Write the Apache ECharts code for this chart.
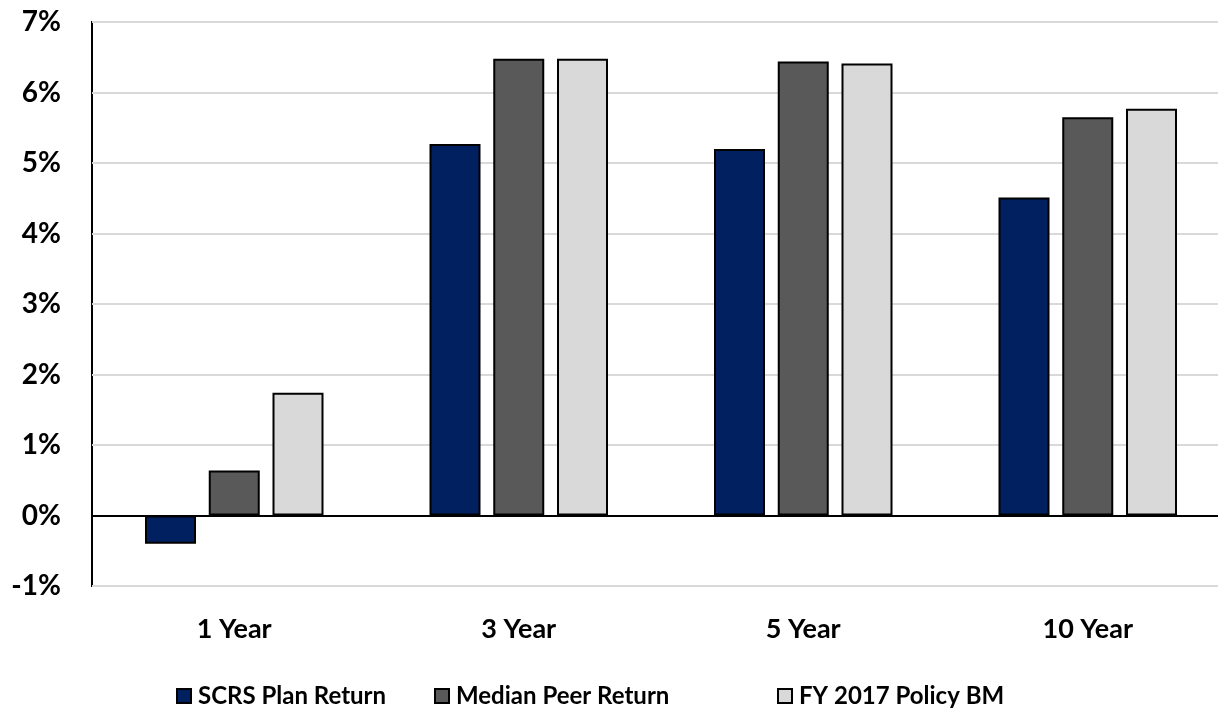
<!DOCTYPE html>
<html>
<head>
<meta charset="utf-8">
<script src="https://cdn.jsdelivr.net/npm/echarts@6/dist/echarts.min.js"></script>
<style>
  html, body { margin: 0; padding: 0; background: #fff; overflow: hidden; }
  /* The plot runs a little past the right edge of the page */
  #chart { width: 1230px; height: 715px; }
</style>
</head>
<body>
<div id="chart"></div>
<script>
// Annualized returns by period (percent)
const periods = ['1 Year', '3 Year', '5 Year', '10 Year'];
const scrsPlanReturn = [-0.40, 5.27, 5.20, 4.51];
const medianPeerReturn = [0.64, 6.48, 6.44, 5.65];
const policyBenchmark = [1.74, 6.48, 6.41, 5.77];
const seriesNames = ['SCRS Plan Return', 'Median Peer Return', 'FY 2017 Policy BM'];
const seriesColors = ['#002060', '#595959', '#d9d9d9'];

const FONT = 'Lato, "Open Sans", sans-serif';

const chart = echarts.init(document.getElementById('chart'), null, { renderer: 'canvas' });

const seriesData = [scrsPlanReturn, medianPeerReturn, policyBenchmark];
const series = seriesData.map((data, i) => ({
  name: seriesNames[i],
  type: 'bar',
  data: data,
  barWidth: 51,
  barGap: '25%',
  itemStyle: { color: seriesColors[i], borderColor: '#000', borderWidth: 2 },
  emphasis: { disabled: true },
  markLine: i === 0 ? {
    silent: true,
    symbol: 'none',
    label: { show: false },
    lineStyle: { color: '#000', width: 2, type: 'solid' },
    data: [{ yAxis: 0 }]
  } : undefined
}));

// One legend block per series so each entry sits at its own spot
const legendLefts = [176, 434, 777];
const legends = seriesNames.map((name, i) => ({
  left: legendLefts[i], top: 684,
  padding: 0,
  icon: 'rect',
  itemWidth: 14, itemHeight: 14,
  textStyle: {
    fontFamily: FONT, fontWeight: 'bold', fontSize: 24, color: '#000',
    padding: [0, 0, 0, 2]
  },
  data: [name]
}));

chart.setOption({
  animation: false,
  textStyle: { fontFamily: FONT },
  grid: {
    left: 92, right: 0, top: 22, bottom: 129,
    show: true, borderColor: '#000', borderWidth: 2
  },
  legend: legends,
  xAxis: {
    type: 'category',
    data: periods,
    axisLine: { show: false, onZero: false },
    axisTick: { show: false },
    axisLabel: { fontFamily: FONT, fontWeight: 'bold', fontSize: 27, color: '#000', margin: 30 }
  },
  yAxis: {
    type: 'value',
    min: -1, max: 7, interval: 1,
    axisLine: { show: false },
    axisTick: { show: false },
    splitLine: { lineStyle: { color: '#d9d9d9', width: 2 } },
    axisLabel: {
      fontFamily: FONT, fontWeight: 'bold', fontSize: 28, color: '#000', margin: 31,
      formatter: '{value}%'
    }
  },
  series: series
});
</script>
</body>
</html>
